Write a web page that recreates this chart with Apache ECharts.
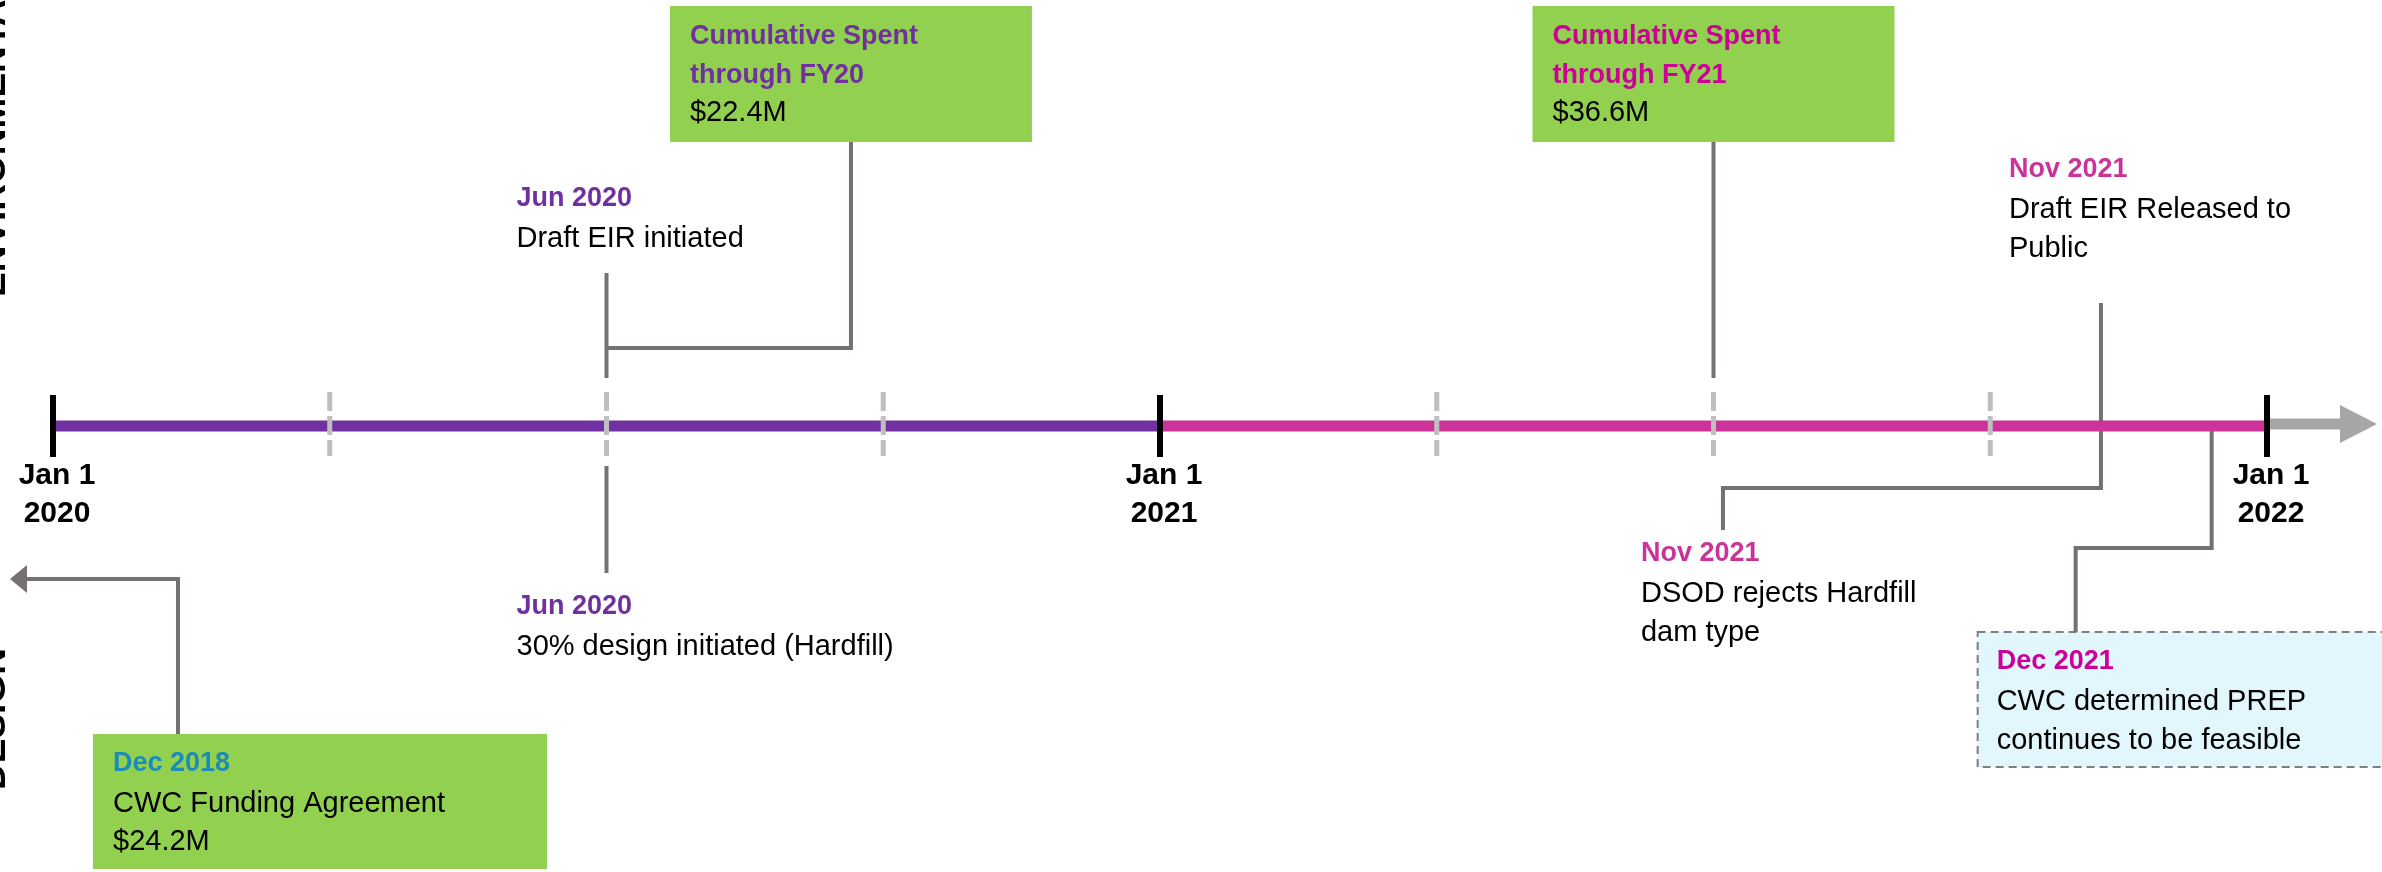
<!DOCTYPE html>
<html><head><meta charset="utf-8">
<script src="https://cdn.jsdelivr.net/npm/echarts@6/dist/echarts.min.js"></script>
<style>html,body{margin:0;padding:0;background:#fff;overflow:hidden}#c{width:2382px;height:872px}</style>
</head><body><div id="c"></div>
<script>
// ---- data (x positions are months after Jan 1 2020) ----
const yearTickMonths = [0, 12, 24];
const yearTickLabels = ['Jan 1\n2020', 'Jan 1\n2021', 'Jan 1\n2022'];
const quarterTickMonths = [3, 6, 9, 15, 18, 21];
const segmentStarts = [0, 12];
const segmentEnds = [12, 24];
const eventDates = ['Jun 2020', 'Jun 2020', 'Nov 2021', 'Nov 2021', 'Dec 2021'];
const eventMonths = [6, 6, 22.2, 22.2, 23.4];
const eventTexts = ['Draft EIR initiated', '30% design initiated (Hardfill)', 'Draft EIR Released to\nPublic', 'DSOD rejects Hardfill\ndam type', 'CWC determined PREP\ncontinues to be feasible'];
const spentTitles = ['Cumulative Spent\nthrough FY20', 'Cumulative Spent\nthrough FY21'];
const spentMonths = [8.65, 18];
const spentValues = [22.4, 36.6];
const fundingDate = 'Dec 2018';
const fundingText = 'CWC Funding Agreement';
const fundingValue = 24.2;
const sideLabels = ['ENVIRONMENTAL', 'DESIGN'];

// ---- styles / layout ----
const purple = '#7030A0', magenta = '#CC3399', deepMagenta = '#CC0099', teal = '#1B8CB8';
const green = '#92D050', connGray = '#767171', tickGray = '#BFBFBF', arrowGray = '#A6A6A6';
const boxBlue = '#E2F6FD', borderGray = '#7F7F7F';
const FONT = '"Liberation Sans", Arial, sans-serif';
const BODY = 29, TITLE = 27, LH = 39;
const segColors = [purple, magenta];
const eventLayout = [
  {path: [[0,-153],[0,-48]], tx: -90, ty: -227, color: purple},
  {path: [[0,40],[0,147]], tx: -90, ty: 181, color: purple},
  {path: [[0,-123],[0,-4]], tx: -92, ty: -256, color: magenta},
  {path: [[0,4],[0,62],[-378,62],[-378,104]], tx: -460, ty: 128, color: magenta},
  {path: [[0,4],[0,122],[-136,122],[-136,206]], tx: -215, ty: 236, color: deepMagenta,
   box: {x: -234, y: 206, w: 420, h: 135}}
];
const spentLayout = [
  {color: purple, joinMonth: eventMonths[0], joinY: -78},
  {color: deepMagenta, joinMonth: null, joinY: -48}
];

function txt(text, x, y, color, size, bold, extra) {
  return {type: 'text', style: Object.assign({
    text: text, x: x, y: y, fill: color, fontSize: size, fontFamily: FONT,
    fontWeight: bold ? 'bold' : 'normal', align: 'left', verticalAlign: 'middle', lineHeight: LH
  }, extra || {})};
}
function poly(points, color, w, dash) {
  return {type: 'polyline', shape: {points: points}, style: {stroke: color, lineWidth: w, fill: null, lineDash: dash || null}};
}

const chart = echarts.init(document.getElementById('c'), null, {renderer: 'canvas'});
chart.setOption({
  animation: false,
  backgroundColor: '#fff',
  grid: {left: 53, right: 115, top: 0, height: 852},
  xAxis: {type: 'value', min: 0, max: 24, show: false},
  yAxis: {type: 'value', min: -1, max: 1, show: false},
  graphic: [
    {type: 'text', x: 13, y: 297, rotation: Math.PI / 2,
     style: {text: sideLabels[0], fill: '#000', fontSize: 37, fontWeight: 'bold', fontFamily: FONT, align: 'left', verticalAlign: 'bottom'}},
    {type: 'text', x: 13, y: 790, rotation: Math.PI / 2,
     style: {text: sideLabels[1], fill: '#000', fontSize: 37, fontWeight: 'bold', fontFamily: FONT, align: 'left', verticalAlign: 'bottom'}}
  ],
  series: [
    { // event connectors and labels
      type: 'custom', clip: false, z: 1,
      data: eventMonths.map((m, i) => [m, i]),
      renderItem: function (params, api) {
        const i = api.value(1);
        const p = api.coord([api.value(0), 0]);
        const L = eventLayout[i];
        const children = [];
        if (L.box) {
          children.push({type: 'rect', shape: {x: p[0] + L.box.x, y: p[1] + L.box.y, width: L.box.w, height: L.box.h},
            style: {fill: boxBlue, stroke: borderGray, lineWidth: 2, lineDash: [8, 5]}});
        }
        children.push(poly(L.path.map(d => [p[0] + d[0], p[1] + d[1]]), connGray, 4));
        children.push(txt(eventDates[i], p[0] + L.tx, p[1] + L.ty, L.color, TITLE, true));
        children.push(txt(eventTexts[i], p[0] + L.tx, p[1] + L.ty + LH / 2 + 1, '#000', BODY, false, {verticalAlign: 'top'}));
        return {type: 'group', children: children};
      }
    },
    { // cumulative spent callouts
      type: 'custom', clip: false, z: 1,
      data: spentMonths.map((m, i) => [m, i]),
      renderItem: function (params, api) {
        const i = api.value(1);
        const p = api.coord([api.value(0), 0]);
        const L = spentLayout[i];
        const pts = [[p[0], p[1] - 284], [p[0], p[1] + L.joinY]];
        if (L.joinMonth !== null) pts.push([api.coord([L.joinMonth, 0])[0], p[1] + L.joinY]);
        return {type: 'group', children: [
          poly(pts, connGray, 4),
          {type: 'rect', shape: {x: p[0] - 181, y: p[1] - 420, width: 362, height: 136}, style: {fill: green}},
          txt(spentTitles[i], p[0] - 161, p[1] - 389 - LH / 2, L.color, TITLE, true, {verticalAlign: 'top'}),
          txt('$' + spentValues[i].toFixed(1) + 'M', p[0] - 161, p[1] - 313, '#000', BODY, false)
        ]};
      }
    },
    { // funding callout (before the timeline starts)
      type: 'custom', clip: false, z: 1,
      data: [[0, fundingValue]],
      renderItem: function (params, api) {
        const p = api.coord([api.value(0), 0]);
        return {type: 'group', children: [
          poly([[p[0] + 125, p[1] + 308], [p[0] + 125, p[1] + 153], [p[0] - 27, p[1] + 153]], connGray, 4),
          {type: 'polygon', shape: {points: [[p[0] - 43, p[1] + 153], [p[0] - 26, p[1] + 139], [p[0] - 26, p[1] + 167]]}, style: {fill: connGray}},
          {type: 'rect', shape: {x: p[0] + 40, y: p[1] + 308, width: 454, height: 135}, style: {fill: green}},
          txt(fundingDate, p[0] + 60, p[1] + 338, teal, TITLE, true),
          txt(fundingText, p[0] + 60, p[1] + 378, '#000', BODY, false),
          txt('$' + api.value(1).toFixed(1) + 'M', p[0] + 60, p[1] + 416, '#000', BODY, false)
        ]};
      }
    },
    { // axis segments
      type: 'custom', clip: false, z: 3,
      data: segmentStarts.map((s, i) => [s, segmentEnds[i], i]),
      renderItem: function (params, api) {
        const a = api.coord([api.value(0), 0]);
        const b = api.coord([api.value(1), 0]);
        return {type: 'line', shape: {x1: a[0], y1: a[1], x2: b[0], y2: b[1]},
          style: {stroke: segColors[api.value(2)], lineWidth: 11}};
      }
    },
    { // continuation arrow
      type: 'custom', clip: false, z: 3,
      data: [[24]],
      renderItem: function (params, api) {
        const p = api.coord([api.value(0), 0]);
        return {type: 'group', children: [
          {type: 'line', shape: {x1: p[0], y1: p[1] - 2, x2: p[0] + 75, y2: p[1] - 2}, style: {stroke: arrowGray, lineWidth: 11}},
          {type: 'polygon', shape: {points: [[p[0] + 73, p[1] - 21], [p[0] + 110, p[1] - 2], [p[0] + 73, p[1] + 17]]}, style: {fill: arrowGray}}
        ]};
      }
    },
    { // quarter ticks
      type: 'custom', clip: false, z: 4,
      data: quarterTickMonths.map(m => [m]),
      renderItem: function (params, api) {
        const p = api.coord([api.value(0), 0]);
        return {type: 'line', shape: {x1: p[0], y1: p[1] - 34, x2: p[0], y2: p[1] + 30},
          style: {stroke: tickGray, lineWidth: 5, lineDash: [19, 5]}};
      }
    },
    { // year ticks and labels
      type: 'custom', clip: false, z: 5,
      data: yearTickMonths.map((m, i) => [m, i]),
      renderItem: function (params, api) {
        const p = api.coord([api.value(0), 0]);
        return {type: 'group', children: [
          {type: 'line', shape: {x1: p[0], y1: p[1] - 31, x2: p[0], y2: p[1] + 31}, style: {stroke: '#000', lineWidth: 6}},
          txt(yearTickLabels[api.value(1)], p[0] + 4, p[1] + 31, '#000', 30, true, {align: 'center', verticalAlign: 'top', lineHeight: 38})
        ]};
      }
    }
  ]
});
</script></body></html>
